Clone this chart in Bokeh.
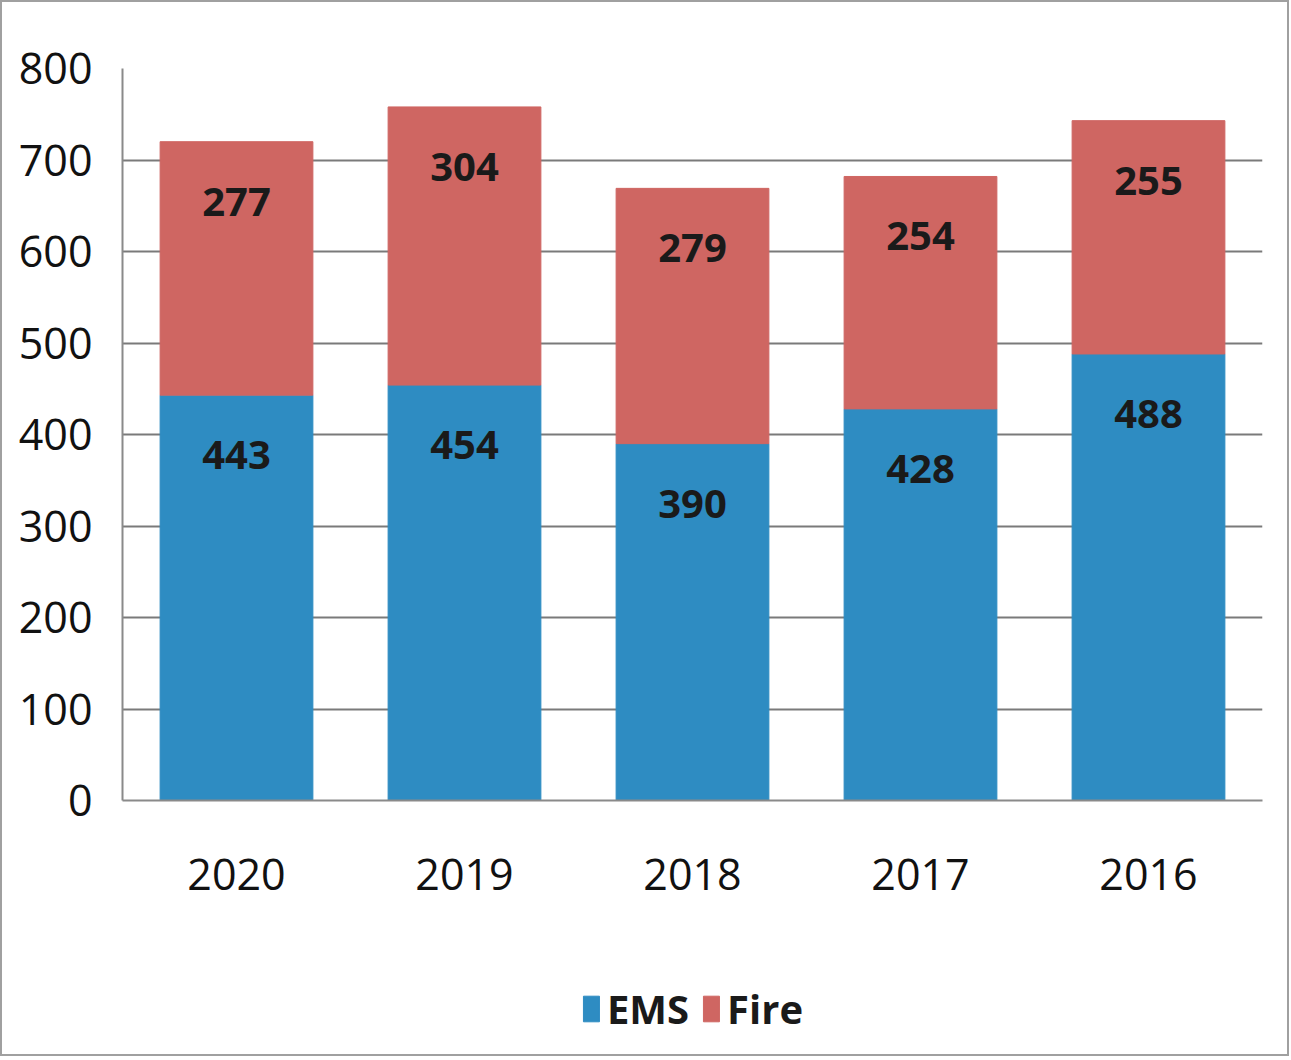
from bokeh.plotting import figure
from bokeh.models import ColumnDataSource, Range1d, FixedTicker, Legend, LegendItem
from bokeh.layouts import column
from bokeh.core.properties import value
from bokeh.embed import file_html
from bokeh.resources import INLINE

years = ["2020", "2019", "2018", "2017", "2016"]
ems = [443, 454, 390, 428, 488]
fire = [277, 304, 279, 254, 255]
y_ticks = [0, 100, 200, 300, 400, 500, 600, 700, 800]
series_names = ["EMS", "Fire"]

EMS_COLOR = "#2e8cc2"
FIRE_COLOR = "#cf6662"
FONT = "Open Sans"

totals = [e + f for e, f in zip(ems, fire)]
source = ColumnDataSource(dict(
    years=years, ems=ems, fire=fire, totals=totals,
    ems_lbl=[str(v) for v in ems], fire_lbl=[str(v) for v in fire],
))

W = 1285
p = figure(x_range=years, y_range=Range1d(0, 800), width=W, height=960,
           output_backend="svg", toolbar_location=None,
           min_border_left=120, min_border_right=25, min_border_top=66, min_border_bottom=162)
p.outline_line_color = None

r_ems = p.vbar(x="years", bottom=0, top="ems", width=0.67, color=EMS_COLOR, source=source)
r_fire = p.vbar(x="years", bottom="ems", top="totals", width=0.67, color=FIRE_COLOR, source=source)

p.text(x="years", y="ems", text="ems_lbl", source=source, text_align="center",
       text_baseline="middle", y_offset=60, text_font=value(FONT),
       text_font_size="40px", text_font_style="bold", text_color="#1a1a1a")
p.text(x="years", y="totals", text="fire_lbl", source=source, text_align="center",
       text_baseline="middle", y_offset=60, text_font=value(FONT),
       text_font_size="40px", text_font_style="bold", text_color="#1a1a1a")

p.yaxis.ticker = FixedTicker(ticks=y_ticks)
p.yaxis.major_label_text_font = FONT
p.yaxis.major_label_text_font_size = "43px"
p.yaxis.major_label_text_color = "#111111"
p.yaxis.major_label_standoff = 24
p.yaxis.major_tick_line_color = None
p.yaxis.minor_tick_line_color = None
p.yaxis.axis_line_color = "#8a8a8a"
p.yaxis.axis_line_width = 2

p.xaxis.major_label_text_font = FONT
p.xaxis.major_label_text_font_size = "43px"
p.xaxis.major_label_text_color = "#111111"
p.xaxis.major_label_standoff = 52
p.xaxis.major_tick_line_color = None
p.xaxis.axis_line_color = "#8a8a8a"
p.xaxis.axis_line_width = 2

p.xgrid.grid_line_color = None
p.ygrid.grid_line_color = "#7a7a7a"
p.ygrid.grid_line_width = 2

# legend strip below the chart (zero-height proxy bars only supply the legend swatches)
q = figure(x_range=years, y_range=Range1d(0, 1), width=W, height=92,
           output_backend="svg", toolbar_location=None,
           min_border_left=0, min_border_right=0, min_border_top=0, min_border_bottom=0)
q.axis.visible = False
q.grid.grid_line_color = None
q.outline_line_color = None
proxy = ColumnDataSource(dict(x=years[:1], top=[0]))
l_ems = q.vbar(x="x", top="top", bottom="top", width=0.5, color=EMS_COLOR, source=proxy)
l_fire = q.vbar(x="x", top="top", bottom="top", width=0.5, color=FIRE_COLOR, source=proxy)
legend = Legend(items=[LegendItem(label=series_names[0], renderers=[l_ems]),
                       LegendItem(label=series_names[1], renderers=[l_fire])],
                orientation="horizontal", location="center",
                glyph_width=20, glyph_height=32, label_text_font=FONT,
                label_text_font_size="40px", label_text_font_style="bold",
                label_text_color="#1a1a1a", border_line_color=None,
                background_fill_alpha=0, spacing=12, label_standoff=6, padding=0, margin=0)
q.add_layout(legend, "center")

layout = column(p, q, spacing=0)
layout.styles = {"border": "2px solid #a0a0a0"}

open("out.html", "w").write(file_html(layout, INLINE))
